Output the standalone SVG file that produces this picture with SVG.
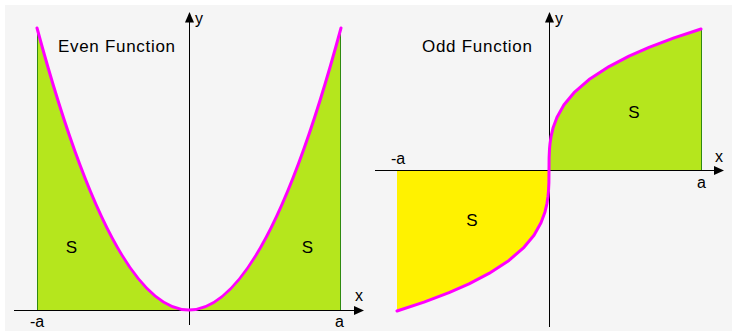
<svg xmlns="http://www.w3.org/2000/svg" width="732" height="334" viewBox="0 0 732 334">
<defs>
<style>
.bg{fill:#f5f5f5}
.green{fill:#b5e61d}
.yellow{fill:#fff200}
.edge{stroke:#2f8a10;stroke-width:1;fill:none}
.axis{stroke:#000;stroke-width:1;fill:none}
.head{fill:#000}
.curve{stroke:#ff00ff;stroke-width:3;fill:none;stroke-linejoin:round;stroke-linecap:round}
text{font-family:"Liberation Sans",Arial,sans-serif;fill:#000}
.title{font-size:17px}
.lbl{font-size:16px}
.s{font-size:17px;text-anchor:middle}
</style>
</defs>
<rect class="bg" x="5" y="5" width="727" height="326"/>
<g id="even-function">
<path class="green" d="M37,28 Q189,592 341,28 L341,310.5 L37,310.5 Z"/>
<line class="edge" x1="37.5" y1="28" x2="37.5" y2="310"/>
<line class="edge" x1="340.5" y1="28" x2="340.5" y2="310"/>
<line class="axis" x1="14" y1="310.5" x2="356" y2="310.5"/>
<polygon class="head" points="364,310.5 354,306 354,315"/>
<line class="axis" x1="189.5" y1="325" x2="189.5" y2="20"/>
<polygon class="head" points="189.5,12 185,22.5 194,22.5"/>
<path class="curve" d="M37,28 Q189,592 341,28"/>
<text class="title" x="58" y="52" textLength="117">Even Function</text>
<text class="lbl" x="195" y="24">y</text>
<text class="lbl" x="355" y="301">x</text>
<text class="lbl" x="30" y="327">-a</text>
<text class="lbl" x="335" y="327">a</text>
<text class="s" x="71.5" y="253">S</text>
<text class="s" x="307.5" y="253">S</text>
</g>
<g id="odd-function">
<polygon class="green" points="549,170 549.1,157.7 549.5,149 550,143.6 551,136.7 553,128.1 557,117.2 564,104.8 574,92.7 589,79.6 609,66.6 629,56.2 649,47.4 674,37.9 701,29 701,170.5 549,170.5"/>
<polygon class="yellow" points="397,170.5 397,311 424,302.1 449,292.6 469,283.8 489,273.4 509,260.4 524,247.3 534,235.2 541,222.8 545,211.9 547,203.3 548,196.4 548.5,191 548.9,182.3 549,170.5"/>
<line class="edge" x1="701.5" y1="29" x2="701.5" y2="170"/>
<line class="axis" x1="375" y1="170.5" x2="716" y2="170.5"/>
<polygon class="head" points="724,170.5 714,166 714,175"/>
<line class="axis" x1="549.5" y1="327" x2="549.5" y2="20"/>
<polygon class="head" points="549.5,12 545,22.5 554,22.5"/>
<polyline class="curve" points="397,311 424,302.1 449,292.6 469,283.8 489,273.4 509,260.4 524,247.3 534,235.2 541,222.8 545,211.9 547,203.3 548,196.4 548.5,191 548.9,182.3 549,170 549.1,157.7 549.5,149 550,143.6 551,136.7 553,128.1 557,117.2 564,104.8 574,92.7 589,79.6 609,66.6 629,56.2 649,47.4 674,37.9 701,29"/>
<text class="title" x="422" y="52" textLength="110">Odd Function</text>
<text class="lbl" x="555" y="24">y</text>
<text class="lbl" x="715" y="162">x</text>
<text class="lbl" x="391" y="164">-a</text>
<text class="lbl" x="697" y="188">a</text>
<text class="s" x="634" y="118">S</text>
<text class="s" x="472" y="226">S</text>
</g>
</svg>
